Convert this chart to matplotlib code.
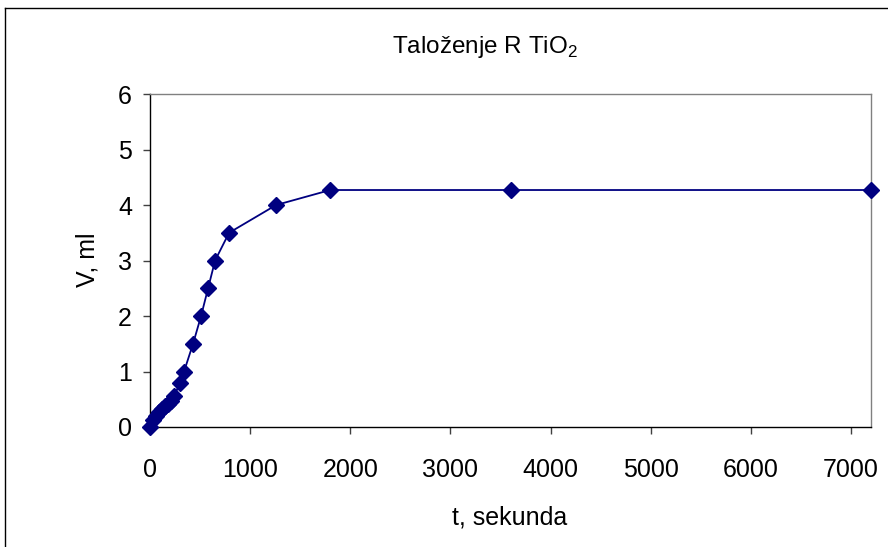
import matplotlib
matplotlib.use("Agg")
import matplotlib.pyplot as plt
from matplotlib.lines import Line2D

# Sedimentation of R TiO2: settled volume over time
t_sec = [0, 30, 60, 90, 120, 150, 180, 210, 240, 300, 340, 430, 510, 580, 650, 790, 1260, 1800, 3600, 7200]
v_ml = [0, 0.12, 0.2, 0.27, 0.33, 0.38, 0.42, 0.46, 0.55, 0.8, 1.0, 1.5, 2.0, 2.5, 3.0, 3.5, 4.0, 4.27, 4.27, 4.27]

x_ticks = [0, 1000, 2000, 3000, 4000, 5000, 6000, 7000]
y_ticks = [0, 1, 2, 3, 4, 5, 6]

title = r"Taloženje R TiO$_\mathregular{2}$"
x_label = "t, sekunda"
y_label = "V, ml"

plt.rcParams["font.family"] = ["Liberation Sans", "DejaVu Sans"]

W, H = 888, 547
fig = plt.figure(figsize=(W / 100, H / 100), dpi=100)
fig.patch.set_facecolor("white")

# outer chart frame (top and left edges visible)
fig.add_artist(Line2D([5 / W, 1], [1 - 8 / H, 1 - 8 / H], color="black", lw=1.0,
                      transform=fig.transFigure))
fig.add_artist(Line2D([5 / W, 5 / W], [0, 1 - 8 / H], color="black", lw=1.0,
                      transform=fig.transFigure))

left, right, top, bottom = 150, 871, 94, 427
ax = fig.add_axes([left / W, 1 - bottom / H, (right - left) / W, (bottom - top) / H])

navy = "#000080"
ax.plot(t_sec, v_ml, color=navy, lw=1.3, marker="D", markersize=8.5,
        markerfacecolor=navy, markeredgecolor=navy, clip_on=False, zorder=3)

ax.set_xlim(0, 7200)
ax.set_ylim(0, 6)
ax.set_xticks(x_ticks)
ax.set_yticks(y_ticks)

for side in ("top", "right"):
    ax.spines[side].set_color("#808080")
    ax.spines[side].set_linewidth(1.0)
for side in ("left", "bottom"):
    ax.spines[side].set_color("black")
    ax.spines[side].set_linewidth(1.0)

ax.tick_params(axis="both", direction="out", length=5, width=1.0, color="#404040",
               labelsize=18)
ax.tick_params(axis="x", pad=17)
ax.tick_params(axis="y", pad=8)

fig.text(485 / W, 1 - 47 / H, title, ha="center", va="center", fontsize=17.5)
fig.text(510 / W, 1 - 517 / H, x_label, ha="center", va="center", fontsize=18)
fig.text(87 / W, 1 - 260 / H, y_label, ha="center", va="center", fontsize=18,
         rotation=90)

fig.savefig("out.png", dpi=100, facecolor="white")
